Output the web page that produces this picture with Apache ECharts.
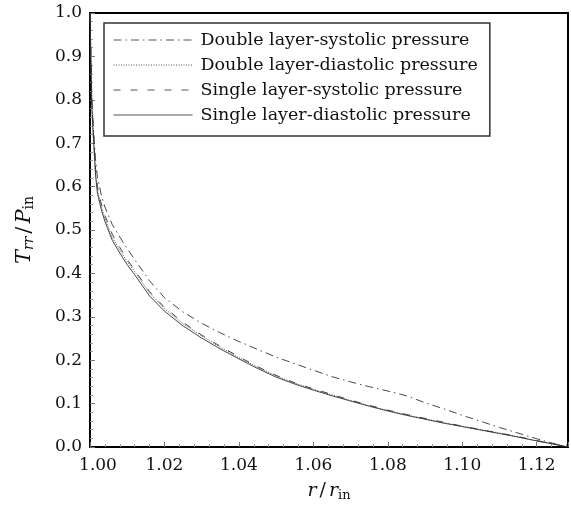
<!DOCTYPE html>
<html>
<head>
<meta charset="utf-8">
<script src="https://cdn.jsdelivr.net/npm/echarts@6/dist/echarts.min.js"></script>
<style>html,body{margin:0;padding:0;background:#fff;}#c{width:571px;height:510px;}</style>
</head>
<body>
<div id="c"></div>
<script>
// r / r_in sample positions
const rRatio = [1.0000, 1.0005, 1.0010, 1.0015, 1.0020, 1.0030, 1.0040, 1.0060, 1.0080, 1.0100, 1.0120, 1.0160, 1.0200, 1.0250, 1.0300, 1.0350, 1.0400, 1.0450, 1.0500, 1.0550, 1.0600, 1.0650, 1.0700, 1.0750, 1.0800, 1.0850, 1.0900, 1.0950, 1.1000, 1.1050, 1.1100, 1.1150, 1.1200, 1.1250, 1.1284];
// T_rr / P_in
const doubleSystolic = [1.000, 0.800, 0.725, 0.660, 0.622, 0.582, 0.553, 0.512, 0.484, 0.457, 0.432, 0.383, 0.344, 0.311, 0.285, 0.263, 0.243, 0.225, 0.207, 0.192, 0.177, 0.162, 0.150, 0.139, 0.129, 0.118, 0.102, 0.088, 0.073, 0.059, 0.045, 0.032, 0.019, 0.007, 0.000];
const doubleDiastolic = [1.000, 0.785, 0.705, 0.630, 0.592, 0.555, 0.527, 0.483, 0.454, 0.427, 0.404, 0.355, 0.319, 0.284, 0.256, 0.230, 0.206, 0.184, 0.164, 0.147, 0.133, 0.120, 0.107, 0.095, 0.084, 0.074, 0.065, 0.056, 0.048, 0.040, 0.032, 0.023, 0.014, 0.006, 0.000];
const singleSystolic = [1.000, 0.790, 0.712, 0.638, 0.600, 0.562, 0.534, 0.490, 0.460, 0.432, 0.408, 0.358, 0.322, 0.287, 0.258, 0.232, 0.208, 0.185, 0.165, 0.148, 0.134, 0.121, 0.108, 0.096, 0.085, 0.075, 0.066, 0.057, 0.048, 0.040, 0.032, 0.024, 0.015, 0.006, 0.000];
const singleDiastolic = [1.000, 0.780, 0.700, 0.625, 0.585, 0.548, 0.520, 0.476, 0.447, 0.420, 0.397, 0.348, 0.313, 0.279, 0.251, 0.226, 0.203, 0.181, 0.161, 0.145, 0.131, 0.118, 0.106, 0.094, 0.083, 0.073, 0.064, 0.055, 0.047, 0.039, 0.031, 0.023, 0.014, 0.006, 0.000];
const seriesNames = ['Double layer-systolic pressure', 'Double layer-diastolic pressure', 'Single layer-systolic pressure', 'Single layer-diastolic pressure'];

const FONT = 'DejaVu Serif';
function pairs(ys){ return rRatio.map((x,i)=>[x, ys[i]]); }
const lineColor = '#333';
function mk(name, ys, type){
  return {name, type:'line', data:pairs(ys), showSymbol:false, symbol:'none', smooth:false,
    lineStyle:{color:lineColor, width:0.9, type:type}, itemStyle:{color:lineColor}, animation:false};
}
const chart = echarts.init(document.getElementById('c'), null, {renderer:'canvas'});
chart.setOption({
  animation:false,
  backgroundColor:'#fff',
  grid:{left:90, right:3, top:13, bottom:63, show:true, borderColor:'#000', borderWidth:2, containLabel:false},
  legend:{
    orient:'vertical', left:104, top:23,
    padding:[8,12,12,9], itemGap:7, itemWidth:79, itemHeight:14,
    backgroundColor:'#fff', borderColor:'#333', borderWidth:1.5,
    itemStyle:{opacity:0},
    lineStyle:{color:'#555', width:1},
    textStyle:{fontFamily:FONT, fontSize:17.5, color:'#111', lineHeight:18, padding:[0,0,0,3]},
    data:seriesNames
  },
  xAxis:{
    type:'value', min:1.0, max:1.1284, interval:0.02,
    axisLine:{show:true, lineStyle:{color:'#000', width:2}},
    axisTick:{show:true, inside:true, length:5, lineStyle:{color:'#777', width:1}},
    minorTick:{show:true, splitNumber:5, length:3, lineStyle:{color:'#999', width:1}},
    splitLine:{show:false},
    axisLabel:{fontFamily:FONT, fontSize:17, color:'#111', margin:10, showMaxLabel:false,
      formatter:function(v){ return Math.abs(v-1)<1e-9 ? '{f|1.00}' : v.toFixed(2); },
      rich:{f:{fontFamily:FONT, fontSize:17, color:'#111', padding:[0,0,0,16]}}},
    name:'{i|r}{n|/}{i|r}{s|in}', nameLocation:'middle', nameGap:33,
    nameTextStyle:{fontFamily:FONT, fontSize:19, color:'#111',
      rich:{i:{fontFamily:FONT, fontStyle:'italic', fontSize:19, color:'#111'},
            n:{fontFamily:FONT, fontSize:19, color:'#111', padding:[0,3,0,3]},
            s:{fontFamily:FONT, fontSize:13, color:'#111', padding:[9,0,0,0]}}}
  },
  yAxis:{
    type:'value', min:0, max:1, interval:0.1,
    axisLine:{show:true, lineStyle:{color:'#000', width:2}},
    axisTick:{show:true, inside:true, length:5, lineStyle:{color:'#777', width:1}},
    minorTick:{show:true, splitNumber:5, length:3, lineStyle:{color:'#999', width:1}},
    splitLine:{show:false},
    axisLabel:{fontFamily:FONT, fontSize:17, color:'#111', margin:8, formatter:function(v){return v.toFixed(1);}},
    name:'{i|T}{si|rr}{n|/}{i|P}{s|in}', nameLocation:'middle', nameGap:54, nameRotate:90,
    nameTextStyle:{fontFamily:FONT, fontSize:21, color:'#111',
      rich:{i:{fontFamily:FONT, fontStyle:'italic', fontSize:21, color:'#111'},
            si:{fontFamily:FONT, fontStyle:'italic', fontSize:14, color:'#111', padding:[9,0,0,0]},
            n:{fontFamily:FONT, fontSize:21, color:'#111', padding:[0,3,0,3]},
            s:{fontFamily:FONT, fontSize:14, color:'#111', padding:[9,0,0,0]}}}
  },
  series:[
    mk(seriesNames[0], doubleSystolic, [8,4,1.5,4]),
    mk(seriesNames[1], doubleDiastolic, [1,1.5]),
    mk(seriesNames[2], singleSystolic, [7,10]),
    mk(seriesNames[3], singleDiastolic, 'solid')
  ]
});
</script>
</body>
</html>
